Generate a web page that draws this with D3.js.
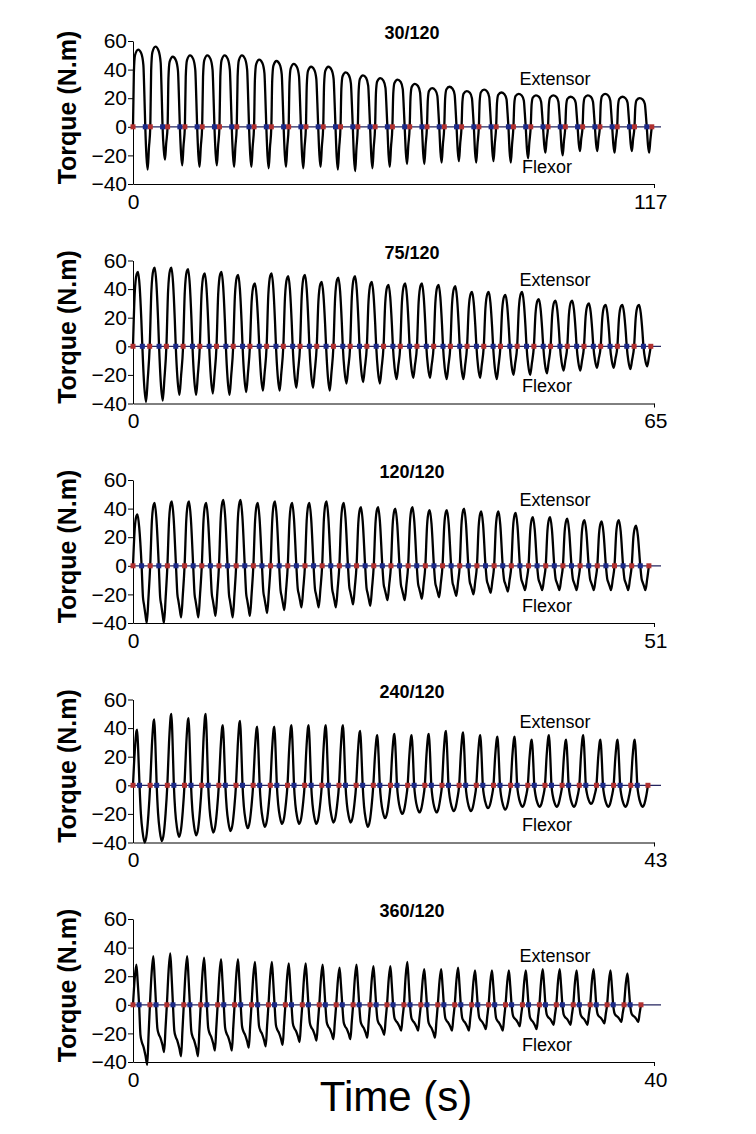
<!DOCTYPE html>
<html>
<head>
<meta charset="utf-8">
<script src="https://cdn.jsdelivr.net/npm/d3@7"></script>
<style>
  body { margin: 0; background: #fff; }
  svg { display: block; }
  text { font-family: Arial, "Liberation Sans", sans-serif; fill: #000; }
</style>
</head>
<body>
<script>
const WIDTH = 756;
const HEIGHT = 1134;

// panel info
const titles = ["30/120", "75/120", "120/120", "240/120", "360/120"];
const durations = [117, 65, 51, 43, 40];      // x axis end (s)
const traceEnds = [116.5, 64.6, 50.5, 42.5, 39]; // where the recording stops (s)
const yTicks = [60, 40, 20, 0, -20, -40];

// peak extensor / flexor torque per repetition (N.m)
const peaks30 = [54, 56, 49, 50, 50, 50, 50, 47, 46, 44, 42, 42, 38, 36, 34, 33, 30, 27, 28, 25, 26, 24, 23, 22, 22, 21, 22, 23, 21, 20];
const troughs30 = [-30, -23, -27, -28, -27, -28, -28, -29, -28, -29, -28, -30, -31, -29, -28, -26, -26, -25, -24, -25, -24, -25, -22, -18, -20, -17, -17, -18, -17, -18];
const peaks75 = [52, 55, 55, 54, 51, 52, 50, 44, 51, 49, 50, 45, 48, 49, 45, 43, 44, 44, 43, 42, 38, 38, 36, 38, 33, 32, 32, 30, 29, 29, 29];
const troughs75 = [-39, -38, -34, -34, -33, -34, -32, -31, -31, -29, -29, -31, -26, -25, -26, -23, -22, -22, -23, -23, -22, -23, -20, -20, -19, -17, -17, -15, -15, -16, -14];
const peaks120 = [36, 44, 45, 45, 44, 46, 46, 44, 45, 44, 44, 45, 44, 41, 41, 40, 41, 39, 39, 40, 38, 38, 37, 34, 34, 33, 32, 31, 32, 28];
const troughs120 = [-40, -40, -36, -36, -35, -36, -35, -33, -31, -29, -29, -29, -27, -28, -24, -24, -23, -22, -21, -20, -19, -18, -17, -17, -17, -17, -17, -17, -17, -17];
const peaks240 = [39, 46, 50, 47, 50, 42, 45, 41, 41, 42, 42, 42, 42, 38, 35, 36, 35, 36, 38, 37, 35, 34, 34, 32, 35, 32, 35, 32, 32, 32];
const troughs240 = [-40, -39, -36, -35, -33, -32, -30, -29, -27, -27, -27, -26, -26, -29, -23, -20, -19, -19, -18, -18, -16, -17, -15, -15, -15, -15, -13, -15, -15, -15];
const peaks360 = [28, 34, 36, 34, 33, 32, 32, 30, 30, 29, 29, 28, 26, 28, 27, 27, 30, 25, 25, 26, 24, 24, 24, 24, 25, 25, 24, 25, 24, 22];
const troughs360 = [-42, -33, -36, -36, -32, -32, -30, -29, -28, -26, -25, -24, -24, -23, -21, -18, -18, -23, -18, -18, -17, -18, -15, -17, -14, -14, -14, -13, -12, -12];

// shape of one repetition: [phase in cycle, share of peak (p) or trough (t)], "d" = downward zero crossing
const shape30 = [[0, 0, "p"], [0.05, 0.7, "p"], [0.12, 0.93, "p"], [0.3, 1, "p"], [0.48, 0.95, "p"], [0.6, 0.8, "p"], [0.66, 0.4, "p"], [0.71, 0, "d"], [0.78, 0.7, "t"], [0.85, 1, "t"], [0.92, 0.5, "t"]];
const shape75 = [[0, 0, "p"], [0.1, 0.7, "p"], [0.22, 0.97, "p"], [0.3, 1, "p"], [0.4, 0.8, "p"], [0.5, 0.35, "p"], [0.56, 0, "d"], [0.66, 0.65, "t"], [0.78, 1, "t"], [0.88, 0.6, "t"]];
const shape120 = [[0, 0, "p"], [0.1, 0.72, "p"], [0.2, 0.97, "p"], [0.26, 1, "p"], [0.36, 0.75, "p"], [0.5, 0, "d"], [0.58, 0.55, "t"], [0.64, 0.68, "t"], [0.72, 0.85, "t"], [0.8, 1, "t"], [0.9, 0.55, "t"]];
const shape240 = [[0, 0, "p"], [0.1, 0.6, "p"], [0.2, 0.97, "p"], [0.24, 1, "p"], [0.3, 0.65, "p"], [0.38, 0, "d"], [0.46, 0.5, "t"], [0.56, 0.82, "t"], [0.68, 1, "t"], [0.8, 0.85, "t"], [0.9, 0.5, "t"]];
const shape360 = [[0, 0, "p"], [0.1, 0.65, "p"], [0.2, 1, "p"], [0.28, 0.55, "p"], [0.36, 0, "d"], [0.44, 0.5, "t"], [0.52, 0.62, "t"], [0.62, 0.7, "t"], [0.74, 0.85, "t"], [0.84, 1, "t"], [0.92, 0.5, "t"]];

const panels = [
    { peaks: peaks30, troughs: troughs30, shape: shape30 },
    { peaks: peaks75, troughs: troughs75, shape: shape75 },
    { peaks: peaks120, troughs: troughs120, shape: shape120 },
    { peaks: peaks240, troughs: troughs240, shape: shape240 },
    { peaks: peaks360, troughs: troughs360, shape: shape360 }
];

// layout
const LEFT = 133, RIGHT = 654;
const TOP0 = 41, PANEL_H = 143, STEP = 219.5;
const extensorDy = [42, 60, 60, 57, 43];
const flexorDy = 46;

var svg = d3.select("body").append("svg")
    .attr("width", WIDTH)
    .attr("height", HEIGHT);

svg.append("rect").attr("width", WIDTH).attr("height", HEIGHT).attr("fill", "#fff");

panels.forEach(function (p, k) {
    let top = TOP0 + k * STEP;
    let x = d3.scaleLinear().domain([0, durations[k]]).range([LEFT, RIGHT]);
    let y = d3.scaleLinear().domain([-40, 60]).range([top + PANEL_H, top]);
    let g = svg.append("g");

    // build the trace from the per-repetition peaks
    let n = p.peaks.length;
    let period = traceEnds[k] / n;
    let pts = [];
    let ups = [], downs = [];
    for (let i = 0; i < n; i++) {
        let t0 = i * period;
        ups.push(t0);
        p.shape.forEach(function (s) {
            let v = s[2] === "p" ? s[1] * p.peaks[i] : s[2] === "t" ? s[1] * p.troughs[i] : 0;
            if (s[2] === "d") downs.push(t0 + s[0] * period);
            pts.push([t0 + s[0] * period, v]);
        });
    }
    pts.push([traceEnds[k], 0]);
    ups.push(traceEnds[k]);

    // y axis
    let ya = g.append("g")
        .attr("transform", "translate(" + LEFT + ",0)")
        .call(d3.axisLeft(y).tickValues(yTicks).tickSize(5).tickSizeOuter(0).tickPadding(1));
    ya.selectAll("text").style("font-size", "21px").attr("fill", "#000");
    ya.selectAll("line,path").attr("stroke", "#000");

    // x axis
    let xa = g.append("g")
        .attr("transform", "translate(0," + (top + PANEL_H) + ")")
        .call(d3.axisBottom(x).tickValues([0, durations[k]]).tickSize(4).tickSizeOuter(0).tickPadding(6));
    xa.selectAll("text").style("font-size", "21px").attr("fill", "#000");
    xa.selectAll("line,path").attr("stroke", "#000");
    xa.selectAll(".tick").filter(function (d) { return d === 0; }).select("line").remove();
    xa.selectAll(".tick").filter(function (d) { return d !== 0; }).select("text")
        .attr("text-anchor", "end").attr("dx", 13);

    // zero line
    g.append("line")
        .attr("x1", x(0)).attr("x2", RIGHT + 7)
        .attr("y1", y(0)).attr("y2", y(0))
        .attr("stroke", "#23235e").attr("stroke-width", 1.2);

    // torque trace
    g.append("path")
        .datum(pts)
        .attr("d", d3.line().x(d => x(d[0])).y(d => y(d[1])).curve(d3.curveMonotoneX))
        .attr("fill", "none")
        .attr("stroke", "#000")
        .attr("stroke-width", 2.3)
        .attr("stroke-linejoin", "round");

    // event markers on the zero line
    g.selectAll(".up").data(ups).enter().append("rect")
        .attr("x", d => x(d) - 2.5).attr("y", y(0) - 2.5)
        .attr("width", 5).attr("height", 5)
        .attr("fill", "#b03030");
    g.selectAll(".down").data(downs).enter().append("rect")
        .attr("x", d => x(d) - 2.5).attr("y", y(0) - 2.5)
        .attr("width", 5).attr("height", 5)
        .attr("fill", "#1c2a88");

    // labels
    g.append("text")
        .attr("x", 412).attr("y", top - 2)
        .attr("text-anchor", "middle")
        .style("font-size", "18px").style("font-weight", "bold")
        .text(titles[k]);
    g.append("text")
        .attr("x", 555).attr("y", y(0) - extensorDy[k])
        .attr("text-anchor", "middle")
        .style("font-size", "18px")
        .text("Extensor");
    g.append("text")
        .attr("x", 547).attr("y", y(0) + flexorDy)
        .attr("text-anchor", "middle")
        .style("font-size", "18px")
        .text("Flexor");
    g.append("text")
        .attr("transform", "translate(76," + (top + PANEL_H / 2 - 5) + ") rotate(-90)")
        .attr("text-anchor", "middle")
        .style("font-size", "25px").style("font-weight", "bold")
        .text("Torque (N.m)");
});

svg.append("text")
    .attr("x", 396).attr("y", 1111)
    .attr("text-anchor", "middle")
    .style("font-size", "42px")
    .text("Time (s)");
</script>
</body>
</html>
